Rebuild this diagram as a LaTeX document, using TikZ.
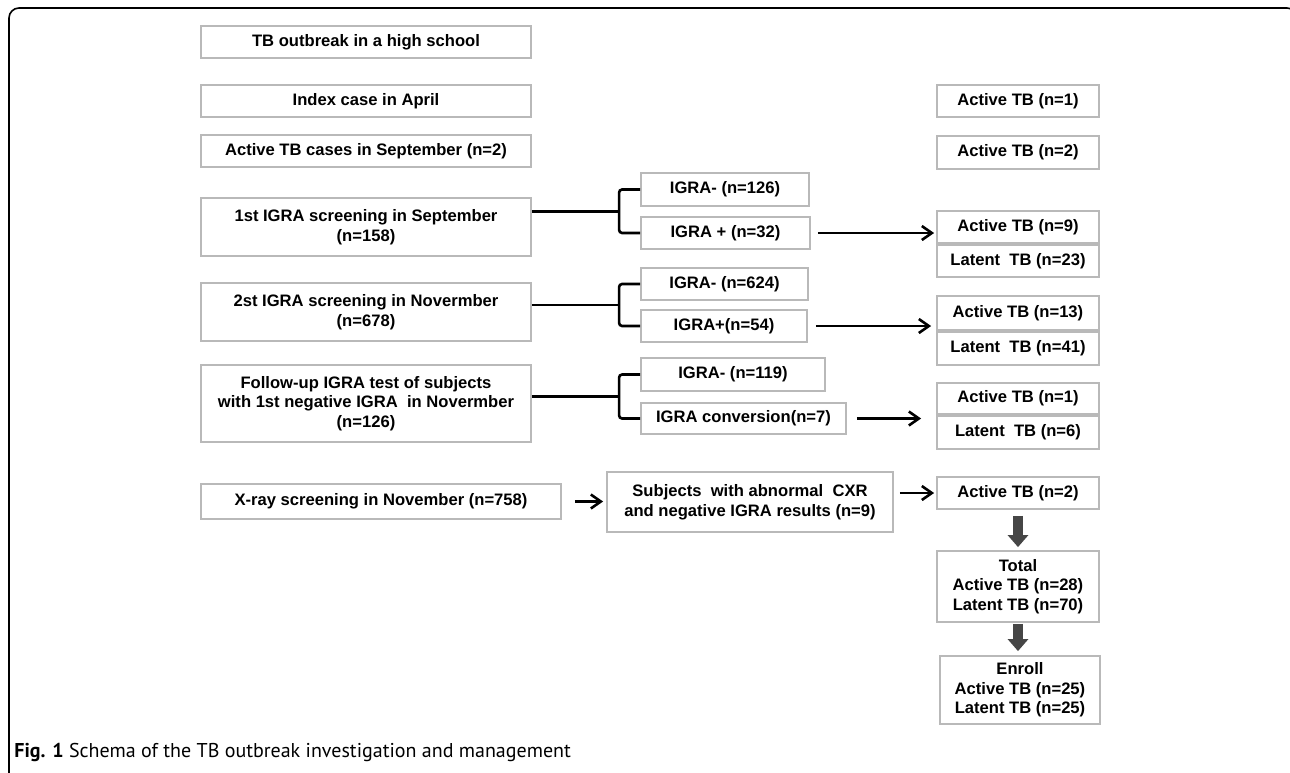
\documentclass[tikz,border=0pt]{standalone}
\usepackage{fontspec}
\setmainfont{Liberation Sans}
\newfontfamily\capfont{PT Sans}
\usetikzlibrary{arrows.meta, positioning, calc}
\definecolor{boxgray}{RGB}{185,185,185}
\definecolor{fatgray}{RGB}{70,70,70}

\begin{document}
\begin{tikzpicture}[
    x=0.5pt, y=-0.5pt,
    every node/.style={font=\fontsize{8.3}{9.8}\selectfont\bfseries},
    box/.style={rectangle, draw=boxgray, line width=0.9pt, align=center, inner sep=0pt, minimum height=16pt},
    lbox/.style={box, minimum width=165pt},
    rbox/.style={box, minimum width=81pt},
    conn/.style={line width=1.3pt, rounded corners=1.5pt},
    arrow/.style={-{Straight Barb[length=5pt,width=7pt]}, line width=1.3pt},
    fat/.style={-{Triangle[length=6pt,width=10pt]}, line width=5pt, fatgray}
]
\clip (0,0) rectangle (1290,772);

% --- Frame and caption ---
\draw[line width=0.8pt, rounded corners=5pt] (9,8) rectangle (1297,785);
\node[anchor=base west, inner sep=0pt, font=\capfont\fontsize{10}{12}\selectfont] (cap) at (14,757)
    {\textbf{Fig. 1} Schema of the TB outbreak investigation and management};

% --- Left column ---
\node[lbox] (outb) at (366,42) {TB outbreak in a high school};
\node[lbox] (index) at (366,101) {Index case in April};
\node[lbox] (sept) at (366,151) {Active TB cases in September (n=2)};
\node[lbox, minimum height=29pt] (scr1) at (366,227) {1st IGRA screening in September\\(n=158)};
\node[lbox, minimum height=29pt] (scr2) at (366,312) {2st IGRA screening in Novermber\\(n=678)};
\node[lbox, minimum height=38.5pt] (follow) at (366,403.5) {Follow-up IGRA test of subjects\\with 1st negative IGRA\ \ in Novermber\\(n=126)};
\node[box, minimum width=180pt, minimum height=17.5pt] (xray) at (381,501.5) {X-ray screening in November (n=758)};

% --- IGRA results ---
\node[box, minimum width=84pt, minimum height=16.5pt] (neg1) at (725,189.5) {IGRA- (n=126)};
\node[box, minimum width=84.5pt] (pos1) at (725.5,233) {IGRA + (n=32)};
\node[box, minimum width=83.5pt] (neg2) at (724.5,284) {IGRA- (n=624)};
\node[box, minimum width=83pt] (pos2) at (724,326) {IGRA+(n=54)};
\node[box, minimum width=92pt, minimum height=16.5pt] (neg3) at (733,374.5) {IGRA- (n=119)};
\node[box, minimum width=102.5pt, minimum height=15.5pt] (pos3) at (743.5,418.5) {IGRA conversion(n=7)};
\node[box, minimum width=143pt, minimum height=30pt] (subj) at (750,502) {Subjects\ \ with abnormal\ \ CXR\\and negative IGRA results (n=9)};

% --- TB outcome ---
\node[rbox] (act1) at (1018,101) {Active TB (n=1)};
\node[rbox, minimum height=16.5pt] (act2) at (1018,152.5) {Active TB (n=2)};
\node[rbox] (act9) at (1018,227) {Active TB (n=9)};
\node[rbox, below=0pt of act9] (lat23) {Latent\ \ TB (n=23)};
\node[rbox, minimum height=17pt] (act13) at (1018,313) {Active TB (n=13)};
\node[rbox, minimum height=16.5pt, below=0pt of act13] (lat41) {Latent\ \ TB (n=41)};
\node[rbox, minimum height=15.5pt] (act1b) at (1018,398.5) {Active TB (n=1)};
\node[rbox, minimum height=16.5pt, below=0pt of act1b] (lat6) {Latent\ \ TB (n=6)};
\node[rbox] (act2b) at (1018,493) {Active TB (n=2)};
\node[rbox, minimum height=35.5pt] (total) at (1018,586.5) {Total\\Active TB (n=28)\\Latent TB (n=70)};
\node[rbox, minimum width=80pt, minimum height=34pt] (enroll) at (1020,690) {Enroll\\Active TB (n=25)\\Latent TB (n=25)};

% --- Brackets ---
\coordinate (br1) at ($(neg1.west)!0.5!(pos1.west)+(-21,0)$);
\coordinate (br2) at ($(neg2.west)!0.5!(pos2.west)+(-21,0)$);
\coordinate (br3) at ($(neg3.west)!0.5!(pos3.west)+(-21,0)$);
\draw[conn] (neg1.west) -| (br1) |- (pos1.west);
\draw[conn] (neg2.west) -| (br2) |- (pos2.west);
\draw[conn] (neg3.west) -| (br3) |- (pos3.west);
\draw[conn] (scr1.east |- br1) -- (br1);
\draw[conn] (scr2.east |- br2) -- (br2);
\draw[conn] (follow.east |- br3) -- (br3);

% --- Arrows ---
\draw[arrow, shorten <=3.5pt, shorten >=1pt] (pos1.east) -- (pos1.east -| act9.west);
\draw[arrow, shorten <=4pt, shorten >=2.5pt] (pos2.east) -- (pos2.east -| act13.west);
\draw[arrow, shorten <=5pt, shorten >=7.5pt] (pos3.east) -- (pos3.east -| act1b.west);
\draw[arrow, shorten <=6.5pt, shorten >=1.5pt] (xray.east) -- (xray.east -| subj.west);
\draw[arrow, shorten <=3pt, shorten >=1pt] (subj.east |- act2b) -- (act2b.west);
\draw[fat, shorten <=3pt, shorten >=1.5pt] (act2b.south) -- (total.north);
\draw[fat, shorten <=0.5pt, shorten >=2pt] (total.south) -- (total.south |- enroll.north);

\end{tikzpicture}
\end{document}
